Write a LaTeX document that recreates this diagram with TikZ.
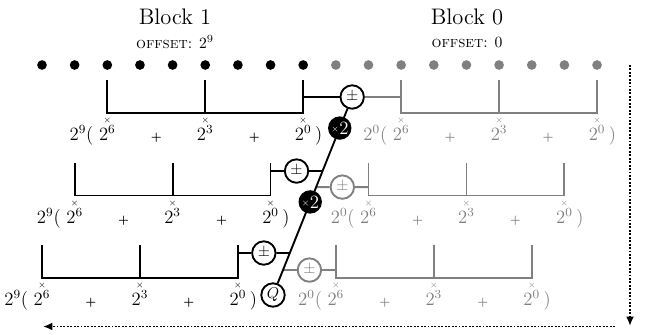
\documentclass[tikz,border=0pt]{standalone}
\usetikzlibrary{calc,arrows.meta}

\tikzset{
    dotnode/.style={circle,fill,inner sep=0pt,minimum size=6.2pt},
    pmnode/.style={circle,draw,fill=white,inner sep=0pt,minimum size=15pt,font=\normalsize},
    graypm/.style={pmnode,draw=gray,text=gray},
    dblnode/.style={circle,fill=black,inner sep=0pt,minimum size=15pt,text=white,font=\large},
    qnode/.style={circle,draw,fill=white,inner sep=0pt,minimum size=15pt},
    xmark/.style={inner sep=0pt,font=\tiny},
    term/.style={inner sep=0pt,anchor=base,font=\large},
    plus/.style={inner sep=0pt,anchor=base,font=\scriptsize\bfseries},
}

\begin{document}
\begin{tikzpicture}[x=0.0225cm,y=-0.0225cm,line width=1.2pt]
    \useasboundingbox (0,0) rectangle (646,335);
    % titles
    \node[font=\Large] (blk1) at (175,17) {Block 1};
    \node (off1) at (175,42) {\textsc{offset}: $2^9$};
    \node[font=\Large] (blk0) at (467,17) {Block 0};
    \node (off0) at (467,42) {\textsc{offset}: 0};
    % the dots
    \foreach \k in {1,...,9}
        \node[dotnode] (d\k) at ({42+32.65*(\k-1)},65) {};
    \foreach \k in {10,...,18}
        \node[dotnode,gray] (d\k) at ({42+32.65*(\k-1)},65) {};
    % one bracket per row and block
    \foreach \a/\y/\n in {3/80/1,2/162.5/2,1/245/3}{
        \foreach \blk/\off/\col/\pw in {B/0/black/9,G/9/gray/0}{
            \pgfmathtruncatemacro\ka{\a+\off}
            \pgfmathtruncatemacro\kb{\a+\off+3}
            \pgfmathtruncatemacro\kc{\a+\off+6}
            \coordinate (\blk\n-a) at ($(d\ka)+(0,\y-65)$);
            \coordinate (\blk\n-b) at ($(d\kb)+(0,\y-65)$);
            \coordinate (\blk\n-c) at ($(d\kc)+(0,\y-65)$);
            \coordinate (\blk\n-A) at ($(\blk\n-a)+(0,33)$);
            \coordinate (\blk\n-B) at ($(\blk\n-b)+(0,33)$);
            \coordinate (\blk\n-C) at ($(\blk\n-c)+(0,33)$);
            \draw[\col] (\blk\n-a) -- (\blk\n-A) -- (\blk\n-C) -- (\blk\n-c)
                (\blk\n-b) -- (\blk\n-B);
            \node[xmark,\col] (\blk\n-xa) at ($(\blk\n-A)+(0,8)$) {$\times$};
            \node[xmark,\col] (\blk\n-xb) at ($(\blk\n-B)+(0,8)$) {$\times$};
            \node[xmark,\col] (\blk\n-xc) at ($(\blk\n-C)+(0,8)$) {$\times$};
            \node[term,\col,anchor=base east] (\blk\n-pre) at ($(\blk\n-A)+(-13,27.5)$) {$2^{\pw}($};
            \node[term,\col] (\blk\n-ta) at ($(\blk\n-A)+(0,27.5)$) {$2^6$};
            \node[plus,\col] (\blk\n-p1) at ($(\blk\n-A)!.5!(\blk\n-B)+(0,27.5)$) {+};
            \node[term,\col] (\blk\n-tb) at ($(\blk\n-B)+(0,27.5)$) {$2^3$};
            \node[plus,\col] (\blk\n-p2) at ($(\blk\n-B)!.5!(\blk\n-C)+(0,27.5)$) {+};
            \node[term,\col] (\blk\n-tc) at ($(\blk\n-C)+(0,27.5)$) {$2^0$};
            \node[term,\col,anchor=base west] (\blk\n-post) at ($(\blk\n-C)+(11,27.5)$) {$)$};
        }
    }
    % adders and the doubling chain
    \node[pmnode] (pm1) at ($(B1-c)!.5!(G1-a)+(0,17)$) {$\pm$};
    \node[qnode] (q) at (273,295) {$Q$};
    \coordinate (j2b) at ($(pm1)!.374!(q)$);
    \coordinate (j2g) at ($(pm1)!.455!(q)$);
    \coordinate (j3b) at ($(pm1)!.788!(q)$);
    \coordinate (j3g) at ($(pm1)!.874!(q)$);
    \node[pmnode] (pm2b) at ($(j2b -| B2-c)!.5!(j2b)$) {$\pm$};
    \node[graypm] (pm2g) at ($(j2g)!.5!(j2g -| G2-a)$) {$\pm$};
    \node[pmnode] (pm3b) at ($(j3b -| B3-c)!.5!(j3b)$) {$\pm$};
    \node[graypm] (pm3g) at ($(j3g)!.5!(j3g -| G3-a)$) {$\pm$};
    \draw (B1-c |- pm1) -- (pm1);
    \draw[gray] (pm1) -- (G1-a |- pm1);
    \draw (B2-c |- pm2b) -- (pm2b) -- (j2b);
    \draw[gray] (j2g) -- (pm2g) -- (G2-a |- pm2g);
    \draw (B3-c |- pm3b) -- (pm3b) -- (j3b);
    \draw[gray] (j3g) -- (pm3g) -- (G3-a |- pm3g);
    \draw (pm1) -- (q);
    \node[dblnode] (dbl1) at ($(pm1)!.157!(q)$) {{\tiny\raisebox{1.6pt}{$\times$}}2};
    \node[dblnode] (dbl2) at ($(pm1)!.53!(q)$) {{\tiny\raisebox{1.6pt}{$\times$}}2};
    % scan order
    \coordinate (vtop) at (630,65);
    \coordinate (vbot) at (630,326);
    \coordinate (hright) at (615,326.5);
    \coordinate (hleft) at (43,326.5);
    \draw[densely dotted,-{Latex[length=6pt,width=5pt]}] (vtop) -- (vbot);
    \draw[densely dotted,-{Latex[length=6pt,width=5pt]}] (hright) -- (hleft);
\end{tikzpicture}
\end{document}
